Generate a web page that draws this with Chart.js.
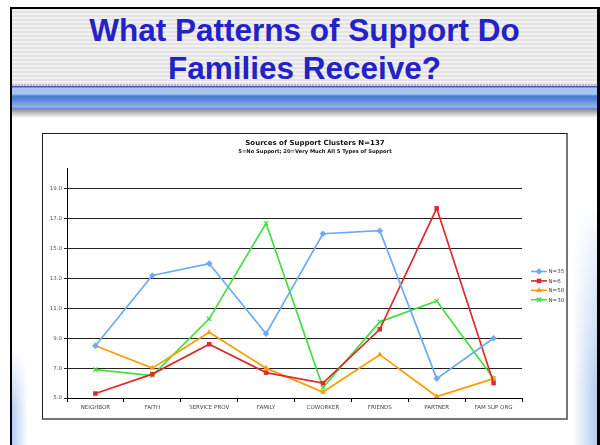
<!DOCTYPE html>
<html>
<head>
<meta charset="utf-8">
<script src="https://cdn.jsdelivr.net/npm/chart.js@4.4.1/dist/chart.umd.min.js"></script>
<style>
  html, body { margin: 0; padding: 0; }
  body { width: 600px; height: 445px; position: relative; overflow: hidden; background: #fff; }
  .slide { position: absolute; left: 10px; top: 7px; width: 585px; height: 440px;
           border-left: 2px solid #000; border-top: 2px solid #000; border-right: 3px solid #000; background: #fff; overflow: hidden; }
  .stripes { position: absolute; left: 0; top: 0; width: 100%; height: 76px;
             background: repeating-linear-gradient(to bottom, #f1f1f1 0px, #f1f1f1 2px, #e3e3e3 2px, #e3e3e3 4px); }
  .dots { position: absolute; left: 0; top: 75px; width: 100%; height: 2px;
          background: repeating-linear-gradient(to right, #b8b8c8 0px, #b8b8c8 2px, #e8e8e8 2px, #e8e8e8 3px); }
  .bar { position: absolute; left: 0; top: 77px; width: 100%; height: 23px;
         background: linear-gradient(to bottom, #5058c0 0px, #5058c0 1px, #a6c6f0 2px, #a8c8f2 8px, #4a7ad4 10px, #5c88da 14px, #94b4ea 21px, #6080c8 23px); }
  .shadow { position: absolute; left: 0; top: 100px; width: 100%; height: 9px;
            background: linear-gradient(to bottom, #8a8a8a, #ffffff); }
  .title { position: absolute; left: 0; top: 2px; width: 100%; text-align: center;
           font-family: "Liberation Sans", Arial, sans-serif; font-weight: bold; font-size: 31.5px;
           line-height: 38px; color: #2222c8; }
  .glow-r { position: absolute; left: 560px; top: 190px; width: 25px; height: 250px;
            background: linear-gradient(to right, rgba(255,255,255,0), #b4cdf0);
            -webkit-mask-image: linear-gradient(to bottom, transparent, #000 75%); mask-image: linear-gradient(to bottom, transparent, #000 75%); }
  .glow-l { position: absolute; left: 0; top: 340px; width: 16px; height: 100px;
            background: linear-gradient(to left, rgba(255,255,255,0), #b4cdf0);
            -webkit-mask-image: linear-gradient(to bottom, transparent, #000 60%); mask-image: linear-gradient(to bottom, transparent, #000 60%); }
  .box { position: absolute; left: 42px; top: 133px; width: 523px; height: 284px;
         border-left: 1px solid #222; border-top: 1px solid #222; border-right: 2px solid #777; border-bottom: 2px solid #777; background: #fff; }
  .box canvas { display: block; }
  .ctitle { position: absolute; left: 172px; width: 200px; text-align: center; color: #111;
            font-family: "DejaVu Sans", sans-serif; font-weight: bold; white-space: nowrap; }
  .ct1 { top: 5px; font-size: 7px; line-height: 8px; }
  .ct2 { top: 13.5px; font-size: 5.2px; line-height: 6px; }
</style>
</head>
<body>
<div class="slide">
  <div class="stripes"></div>
  <div class="dots"></div>
  <div class="bar"></div>
  <div class="shadow"></div>
  <div class="glow-r"></div>
  <div class="glow-l"></div>
  <div class="title">What Patterns of Support Do<br>Families Receive?</div>
</div>
<div class="box">
  <canvas id="supportChart" width="523" height="284"></canvas>
  <div class="ctitle ct1">Sources of Support Clusters N=137</div>
  <div class="ctitle ct2">5=No Support; 20=Very Much All 5 Types of Support</div>
</div>

<script>
// categories and cluster scores (5 = no support, 20 = very much)
const categories = ['NEIGHBOR', 'FAITH', 'SERVICE PROV', 'FAMILY', 'COWORKER', 'FRIENDS', 'PARTNER', 'FAM SUP ORG'];
const seriesNames = ['N=35', 'N=6', 'N=58', 'N=30'];
const n35 = [8.5, 13.2, 14.0, 9.3, 16.0, 16.2, 6.3, 9.0];
const n6 = [5.3, 6.6, 8.6, 6.7, 6.0, 9.6, 17.7, 6.0];
const n58 = [8.5, 7.0, 9.4, 7.0, 5.4, 7.9, 5.1, 6.3];
const n30 = [6.9, 6.5, 10.3, 16.7, 5.7, 10.1, 11.5, 6.3];
const yTicks = [5, 7, 9, 11, 13, 15, 17, 19];

const font = 'DejaVu Sans';

function makeSet(label, data, color, style, radius) {
    return {
        label: label,
        data: data,
        borderColor: color,
        backgroundColor: color,
        borderWidth: 1.7,
        pointStyle: style,
        pointRadius: radius,
        pointBorderWidth: style === 'crossRot' ? 1.2 : 0,
        pointBorderColor: color,
        tension: 0
    };
}

// legend drawn like the spreadsheet one: short line with a marker
const lineLegend = {
    id: 'lineLegend',
    afterDraw(chart) {
        const c = chart.ctx;
        const x0 = 488, x1 = 504, y0 = 137.5, gap = 9.4;
        c.save();
        chart.data.datasets.forEach((ds, i) => {
            const y = y0 + i * gap;
            c.strokeStyle = ds.borderColor;
            c.lineWidth = 1.6;
            c.beginPath();
            c.moveTo(x0, y);
            c.lineTo(x1, y);
            c.stroke();
            c.fillStyle = ds.backgroundColor;
            Chart.helpers.drawPoint(c, {
                pointStyle: ds.pointStyle,
                radius: ds.pointRadius,
                rotation: 0,
                borderWidth: ds.pointBorderWidth
            }, (x0 + x1) / 2, y);
            c.fillStyle = '#444';
            c.font = '5.5px "' + font + '"';
            c.textBaseline = 'middle';
            c.fillText(ds.label, x1 + 1.5, y + 0.5);
        });
        c.restore();
    }
};

const ctx = document.getElementById('supportChart').getContext('2d');
const chart = new Chart(ctx, {
    type: 'line',
    data: {
        labels: categories,
        datasets: [
            makeSet(seriesNames[0], n35, '#6aaaf8', 'rectRot', 3.3),
            makeSet(seriesNames[1], n6, '#dd2a2a', 'rect', 3.2),
            makeSet(seriesNames[2], n58, '#ff9a00', 'triangle', 3.3),
            makeSet(seriesNames[3], n30, '#44dd44', 'crossRot', 3)
        ]
    },
    options: {
        responsive: false,
        animation: false,
        layout: { padding: { left: 0, right: 44, top: 34, bottom: 0 } },
        plugins: {
            legend: { display: false },
            tooltip: { enabled: false },
            title: { display: false },
            subtitle: { display: false }
        },
        scales: {
            x: {
                offset: true,
                grid: { offset: true, drawOnChartArea: false, drawTicks: true, tickLength: 4, color: '#000' },
                border: { color: '#000', width: 1 },
                ticks: { color: '#444', padding: 2, font: { family: font, size: 5.5 }, maxRotation: 0, autoSkip: false },
                afterFit(scale) { scale.height = 20; }
            },
            y: {
                min: 5,
                max: 20.4,
                afterBuildTicks(scale) { scale.ticks = yTicks.map(v => ({ value: v })); },
                grid: { color: '#222', lineWidth: 1, drawTicks: true, tickLength: 3 },
                border: { color: '#000', width: 1 },
                ticks: { color: '#555', padding: 2, font: { family: font, size: 5.5 },
                         callback: v => v.toFixed(1) },
                afterFit(scale) { scale.width = 24; }
            }
        }
    },
    plugins: [lineLegend]
});
</script>
</body>
</html>
